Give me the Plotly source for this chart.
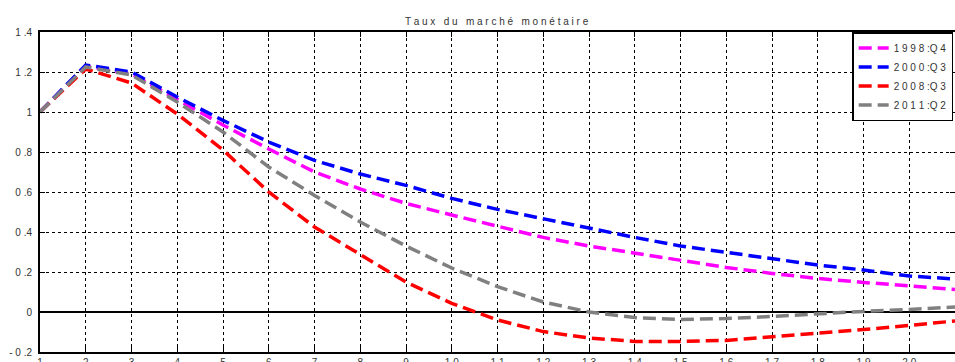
import plotly.graph_objects as go

horizons = list(range(1, 22))
series_names = ["1 9 9 8 :Q 4", "2 0 0 0 :Q 3", "2 0 0 8 :Q 3", "2 0 1 1 :Q 2"]
colors = ["#FF00FF", "#0000FF", "#FF0000", "#808080"]

v_1998q4 = [1.0, 1.23, 1.19, 1.06, 0.935, 0.815, 0.70, 0.615, 0.543, 0.485, 0.427,
            0.373, 0.33, 0.293, 0.257, 0.223, 0.193, 0.168, 0.148, 0.13, 0.113]
v_2000q3 = [1.0, 1.235, 1.20, 1.075, 0.958, 0.85, 0.758, 0.69, 0.633, 0.568, 0.513,
            0.465, 0.418, 0.373, 0.33, 0.298, 0.265, 0.235, 0.21, 0.18, 0.165]
v_2008q3 = [1.0, 1.215, 1.145, 0.99, 0.81, 0.60, 0.425, 0.285, 0.15, 0.043, -0.04,
            -0.098, -0.13, -0.147, -0.147, -0.142, -0.125, -0.108, -0.088, -0.067, -0.045]
v_2011q2 = [1.0, 1.225, 1.185, 1.05, 0.90, 0.725, 0.583, 0.45, 0.33, 0.22, 0.127,
            0.05, 0.0, -0.028, -0.037, -0.033, -0.022, -0.008, 0.003, 0.013, 0.025]
all_values = [v_1998q4, v_2000q3, v_2008q3, v_2011q2]

y_tickvals = [-0.2, 0, 0.2, 0.4, 0.6, 0.8, 1.0, 1.2, 1.4]
y_ticktext = ["- 0 .2", "0", "0 .2", "0 .4", "0 .6", "0 .8", "1", "1 .2", "1 .4"]
x_ticktext = [" ".join(str(h)) for h in horizons]

title_text = "T a u x   d u   m a r c h é   m o n é t a i r e"

fig = go.Figure()
for name, vals, col in zip(series_names, all_values, colors):
    fig.add_trace(go.Scatter(
        x=horizons, y=vals, mode="lines", name=name,
        line=dict(color=col, width=3.5, dash="13px,6px"),
    ))

font_family = "Liberation Sans, Arial, sans-serif"
fig.update_layout(
    width=955, height=362,
    margin=dict(l=40, r=0, t=32, b=10, autoexpand=False),
    paper_bgcolor="white", plot_bgcolor="white",
    showlegend=True,
    title=dict(text=title_text, x=0.52, xanchor="center", y=0.94, yanchor="middle",
               font=dict(family=font_family, size=10, color="#333333")),
    legend=dict(x=0.998, xanchor="right", y=1, yanchor="top",
                bgcolor="white", bordercolor="black", borderwidth=1.5,
                font=dict(family=font_family, size=10, color="#333333"),
                tracegroupgap=0, itemwidth=30),
    font=dict(family=font_family, size=10, color="#333333"),
)
fig.update_xaxes(
    range=[1, 21], tickmode="array", tickvals=horizons, ticktext=x_ticktext,
    showgrid=True, gridcolor="black", griddash="dot", gridwidth=1,
    showline=True, linecolor="black", linewidth=1.5, mirror="ticks",
    ticks="inside", ticklen=5, tickcolor="black", automargin=False,
    zeroline=False, tickfont=dict(size=10, color="#333333"),
)
fig.update_yaxes(
    range=[-0.2, 1.4], tickmode="array", tickvals=y_tickvals, ticktext=y_ticktext,
    showgrid=True, gridcolor="black", griddash="dot", gridwidth=1,
    showline=True, linecolor="black", linewidth=2, mirror="ticks",
    ticks="inside", ticklen=5, tickcolor="black", automargin=False,
    zeroline=True, zerolinecolor="black", zerolinewidth=1.5,
    ticklabelstandoff=4,
    tickfont=dict(size=10, color="#333333"),
)

fig.write_html(
    "out.html",
    config={"displayModeBar": False},
    post_script="document.body.style.margin='0';document.body.style.overflow='hidden';",
)
